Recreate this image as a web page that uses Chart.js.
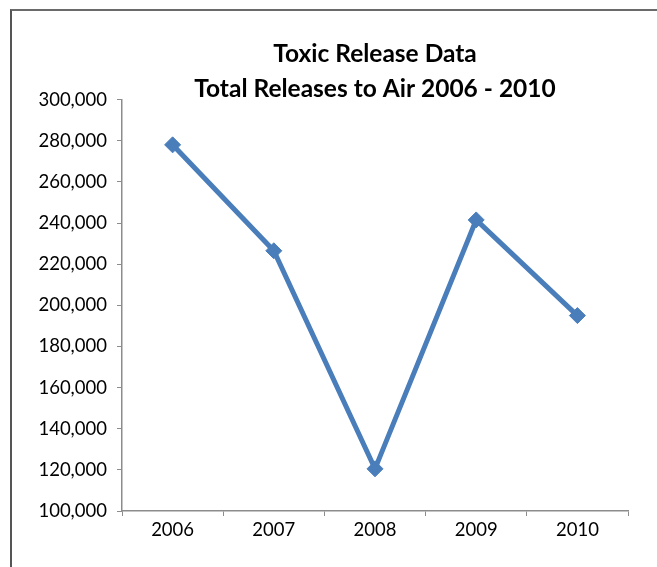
<!DOCTYPE html>
<html>
<head>
<meta charset="utf-8">
<script src="https://cdn.jsdelivr.net/npm/chart.js@4"></script>
<style>
  html, body { margin: 0; padding: 0; background: #fff; }
  #wrap { position: relative; width: 657px; height: 567px; overflow: hidden; }
  #frame {
    position: absolute; left: 10px; top: 9px; width: 700px; height: 600px;
    border-left: 2px solid #555; border-top: 2px solid #6a6a6a;
  }
  #chart { position: absolute; left: 0; top: 0; }
</style>
</head>
<body>
<div id="wrap">
  <div id="frame"></div>
  <canvas id="chart" width="657" height="567"></canvas>
</div>
<script>
  var years = ['2006', '2007', '2008', '2009', '2010'];
  var airReleases = [278000, 226500, 120500, 241500, 195000];
  var titleLines = ['Toxic Release Data', 'Total Releases to Air 2006 - 2010'];

  var lineBlue = '#4A7EBB';
  var axisGrey = '#8c8c8c';
  var fontFamily = 'Lato, Carlito, "Open Sans", sans-serif';

  var data = {
    labels: years,
    datasets: [{
      label: 'Total Releases to Air',
      data: airReleases,
      borderColor: lineBlue,
      backgroundColor: lineBlue,
      borderWidth: 5,
      tension: 0,
      pointStyle: 'rectRot',
      pointRadius: 8,
      pointHoverRadius: 8,
      pointBorderWidth: 1,
      pointBorderColor: lineBlue,
      pointBackgroundColor: lineBlue
    }]
  };

  var options = {
    responsive: false,
    animation: false,
    layout: { padding: { left: 0, right: 29, top: 0, bottom: 0 } },
    plugins: {
      legend: { display: false },
      tooltip: { enabled: false },
      title: {
        display: true,
        text: titleLines,
        color: '#000',
        fullSize: false,
        font: { family: fontFamily, size: 24.5, weight: 'bold', lineHeight: 1.42 },
        padding: { top: 37, bottom: -7 }
      }
    },
    scales: {
      x: {
        offset: true,
        grid: { offset: true, drawOnChartArea: false, color: axisGrey, tickLength: 5 },
        border: { color: axisGrey, width: 1.5 },
        ticks: { color: '#000', padding: 3, font: { family: fontFamily, size: 18.5 } },
        afterFit: function (scale) { scale.height = 56; }
      },
      y: {
        min: 100000,
        max: 300000,
        grid: { drawOnChartArea: false, color: axisGrey, tickLength: 5 },
        border: { color: axisGrey, width: 1.5 },
        ticks: {
          stepSize: 20000,
          color: '#000',
          padding: 10,
          font: { family: fontFamily, size: 18.5 },
          callback: function (v) { return v.toLocaleString('en-US'); }
        },
        afterFit: function (scale) { scale.width = 122; }
      }
    }
  };

  new Chart(document.getElementById('chart'), { type: 'line', data: data, options: options });
</script>
</body>
</html>
